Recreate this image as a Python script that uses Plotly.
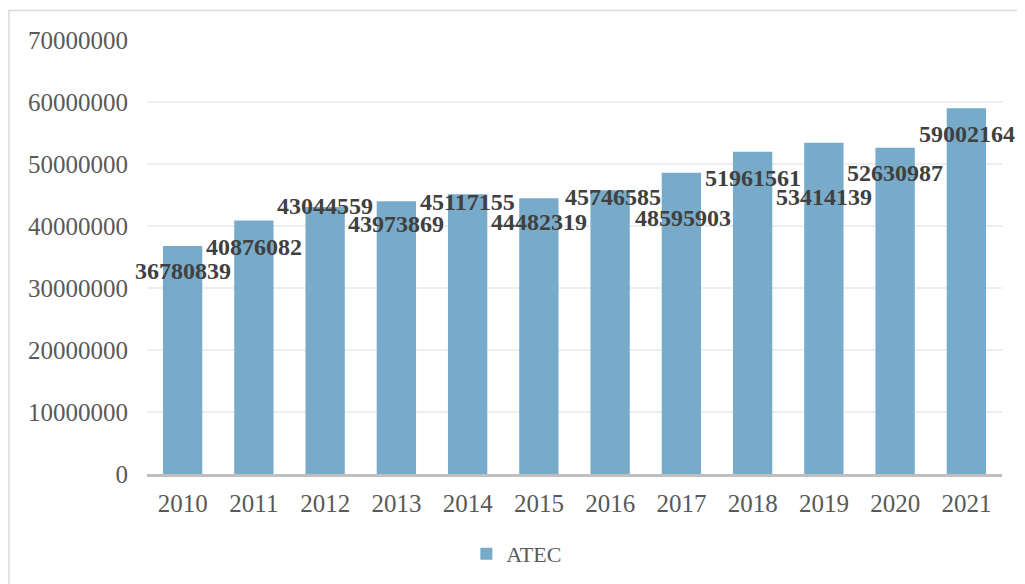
import plotly.graph_objects as go

# ---- data ----
years = ["2010", "2011", "2012", "2013", "2014", "2015",
         "2016", "2017", "2018", "2019", "2020", "2021"]
atec = [36780839, 40876082, 43044559, 43973869, 45117155, 44482319,
        45746585, 48595903, 51961561, 53414139, 52630987, 59002164]
series_name = "ATEC"
y_ticks = [0, 10000000, 20000000, 30000000, 40000000, 50000000, 60000000, 70000000]

# ---- styling (label vertical offsets in px below bar top) ----
label_drop = [25, 26, -1, 23, 8, 24, 7, 45, 26, 54, 25, 26]
label_dx = [0, 0, 0, 0, 0, 0, 3, 2, 0, 0, 0, 1]

SERIF = "Liberation Serif, Times New Roman, serif"
BAR_COLOR = "rgb(120,171,201)"

fig = go.Figure()
fig.add_trace(go.Bar(
    x=years, y=atec, name=series_name,
    marker=dict(color=BAR_COLOR, line=dict(width=0)),
    showlegend=True,
))

# annotations on a category axis are positioned by category index
for i, (v, d, dx) in enumerate(zip(atec, label_drop, label_dx)):
    fig.add_annotation(
        x=i, y=v, text=f"<b>{v}</b>", showarrow=False,
        yshift=-d, xshift=dx, xanchor="center", yanchor="middle",
        font=dict(family=SERIF, size=24, color="#404040"),
    )

# outer chart border
fig.add_shape(type="rect", xref="paper", yref="paper",
              x0=-0.1615, x1=1.08, y0=-0.32, y1=1.068,
              line=dict(color="#D9D9D9", width=1.5), layer="below")

fig.update_layout(
    width=1017, height=576,
    margin=dict(l=139, r=23, t=32, b=110, autoexpand=False),
    paper_bgcolor="white", plot_bgcolor="white",
    bargap=0.448,
    font=dict(family=SERIF, color="#595959"),
    legend=dict(orientation="h", x=0.432, xanchor="center",
                y=-0.184, yanchor="middle",
                font=dict(family=SERIF, size=22, color="#595959"),
                itemwidth=30),
    xaxis=dict(type="category", categoryorder="array", categoryarray=years,
               range=[-0.5, len(years) - 0.5],
               showgrid=False, showline=True,
               linecolor="#BFBFBF", linewidth=2.5, ticks="",
               tickfont=dict(family=SERIF, size=25, color="#595959"),
               ticklabelstandoff=5),
    yaxis=dict(range=[0, 70000000], tickvals=y_ticks,
               ticktext=[str(t) for t in y_ticks],
               showgrid=True, gridcolor="#EEEEEE", gridwidth=1.5,
               zeroline=False, showline=False, ticks="",
               tickfont=dict(family=SERIF, size=25, color="#595959"),
               ticklabelstandoff=18),
)

fig.write_html("out.html")
